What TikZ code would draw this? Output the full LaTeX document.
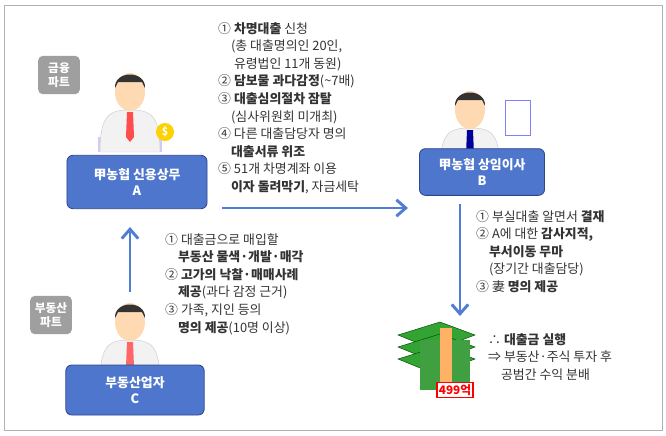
\documentclass[tikz,border=0pt]{standalone}
\usepackage{fontspec}
\setmainfont{Noto Sans CJK KR}
\usetikzlibrary{positioning,arrows.meta}
\definecolor{boxblue}{RGB}{78,118,205}
\definecolor{boxedge}{RGB}{45,70,140}
\definecolor{flowblue}{RGB}{80,125,215}
\tikzset{
  rolebox/.style={draw=boxedge, fill=boxblue, rounded corners=5pt, line width=0.7pt,
    text=white, font=\bfseries\fontsize{11}{14}\selectfont, align=center},
  badge/.style={fill=gray!75, rounded corners=4pt, text=white, font=\bfseries\fontsize{10}{12}\selectfont, align=center, minimum width=1.25cm, minimum height=1.15cm, inner sep=1pt},
  flow/.style={-{Straight Barb[length=8pt,width=14pt]}, draw=flowblue, line width=2.5pt},
  note/.style={anchor=north west, align=left, inner sep=0pt, font=\fontsize{11}{15}\selectfont, text=black!80},
}
\begin{document}
\begin{tikzpicture}[x=0.03cm,y=-0.03cm]
  \useasboundingbox (0,0) rectangle (666,435);
  \draw[gray!60, line width=0.6pt] (4,5) rectangle (662,430);
  % people
  \foreach \px/\py/\tie in {130/92/red!70, 470/110/blue!60!black, 130/322/red!60} {
    \fill[blue!20] (\px-32,\py+45) rectangle (\px+32,\py+60);
    \fill[gray!10, draw=gray!40] (\px-30,\py+60) .. controls (\px-30,\py+22) and (\px-20,\py+18) .. (\px,\py+18) .. controls (\px+20,\py+18) and (\px+30,\py+22) .. (\px+30,\py+60) -- cycle;
    \fill[\tie] (\px-3,\py+20) -- (\px+3,\py+20) -- (\px+4,\py+45) -- (\px,\py+50) -- (\px-4,\py+45) -- cycle;
    \fill[orange!30] (\px,\py) ellipse (15 and 19);
    \fill[black!80] (\px-15,\py-4) .. controls (\px-16,\py-22) and (\px+16,\py-22) .. (\px+15,\py-4) -- (\px+12,\py-10) -- (\px-12,\py-10) -- cycle;
  }
  \fill[yellow!70!orange] (165,132) circle (9);
  \node[font=\bfseries\small, text=white] at (165,132) {\$};
  \draw[blue!50, fill=white] (505,100) rectangle (530,135);
  % boxes
  \node[rolebox, minimum width=4.2cm, minimum height=1.6cm] (A) at (137,182) {甲농협 신용상무\\A};
  \node[rolebox, minimum width=3.75cm, minimum height=1.4cm] (B) at (482,172) {甲농협 상임이사\\B};
  \node[rolebox, minimum width=4.15cm, minimum height=1.5cm] (C) at (135,390) {부동산업자\\C};
  \node[badge] (fin) at (59,75) {금융\\파트};
  \node[badge] (real) at (51,315) {부동산\\파트};
  % money
  \foreach \dy in {0,12,24} \fill[green!55!black!80, draw=green!30!black] (398,335+\dy) -- (440,322+\dy) -- (475,335+\dy) -- (435,350+\dy) -- cycle;
  \fill[green!50!black!75] (420,340) rectangle (470,390);
  \fill[orange!60] (440,328) rectangle (452,390);
  \node[draw=red, line width=1.2pt, fill=white, text=red, font=\bfseries\fontsize{10}{11}\selectfont, inner sep=1.5pt] (won) at (455,390) {499억};
  % arrows
  \coordinate (ab1) at (222,208);
  \coordinate (ab2) at (408,208);
  \draw[flow] (ab1) -- (ab2);
  \coordinate (ca) at (130,227);
  \draw[flow] (130,292) -- (ca);
  \coordinate (bm) at (460,316);
  \draw[flow] (B.south -| bm) ++(0,8) -- (bm);
  % notes
  \node[note] (n1) at (218,22) {① \textbf{차명대출} 신청\\\quad(총 대출명의인 20인,\\\quad\ 유령법인 11개 동원)\\② \textbf{담보물 과다감정}(\textasciitilde7배)\\③ \textbf{대출심의절차 잠탈}\\\quad(심사위원회 미개최)\\④ 다른 대출담당자 명의\\\quad\textbf{대출서류 위조}\\⑤ 51개 차명계좌 이용\\\quad\textbf{이자 돌려막기}, 자금세탁};
  \node[note] (n2) at (165,233) {① 대출금으로 매입할\\\quad\textbf{부동산 물색·개발·매각}\\② \textbf{고가의 낙찰·매매사례}\\\quad\textbf{제공}(과다 감정 근거)\\③ 가족, 지인 등의\\\quad\textbf{명의 제공}(10명 이상)};
  \node[note] (n3) at (476,210) {① 부실대출 알면서 \textbf{결재}\\② A에 대한 \textbf{감사지적,}\\\quad\textbf{부서이동 무마}\\\quad(장기간 대출담당)\\③ 妻 \textbf{명의 제공}};
  \node[note] (n4) at (488,333) {∴ \textbf{대출금 실행}\\⇒ 부동산·주식 투자 후\\\quad 공범간 수익 분배};
\end{tikzpicture}
\end{document}
